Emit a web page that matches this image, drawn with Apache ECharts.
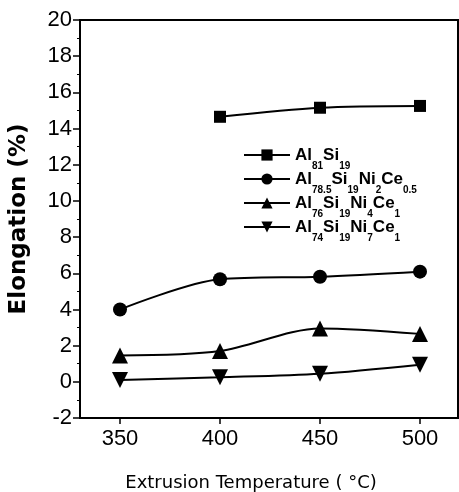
<!DOCTYPE html>
<html><head><meta charset="utf-8">
<script src="https://cdn.jsdelivr.net/npm/echarts@6/dist/echarts.min.js"></script>
<style>html,body{margin:0;padding:0;background:#fff}#c{width:459px;height:492px}</style>
</head><body><div id="c"></div>
<script>
var temps = [350, 400, 450, 500];
var xTicks = [350, 400, 450, 500];
var seriesNames = ['Al81Si19', 'Al78.5Si19Ni2Ce0.5', 'Al76Si19Ni4Ce1', 'Al74Si19Ni7Ce1'];
var legendRich = [
  '{b|Al}{s|81}{b|Si}{s|19}',
  '{b|Al}{s|78.5}{b|Si}{s|19}{b|Ni}{s|2}{b|Ce}{s|0.5}',
  '{b|Al}{s|76}{b|Si}{s|19}{b|Ni}{s|4}{b|Ce}{s|1}',
  '{b|Al}{s|74}{b|Si}{s|19}{b|Ni}{s|7}{b|Ce}{s|1}'
];
var alSi = [null, 14.65, 15.15, 15.25];
var ce05 = [4.0, 5.67, 5.81, 6.09];
var ni4 = [1.45, 1.7, 2.95, 2.65];
var ni7 = [0.1, 0.25, 0.45, 0.95];
var symbols = ['rect', 'circle', 'triangle', 'path://M0,0 L10,0 L5,9 Z'];
var values = [alSi, ce05, ni4, ni7];

function pairs(v){ var out=[]; for(var i=0;i<temps.length;i++){ if(v[i]!=null) out.push([temps[i], v[i]]); } return out; }

var chart = echarts.init(document.getElementById('c'));
var series = values.map(function(v, i){
  return {
    name: seriesNames[i], type: 'line', smooth: 0.3, data: pairs(v),
    symbol: symbols[i], symbolSize: i===0 ? 12 : (i===1 ? 14 : 16),
    lineStyle: {color: '#000', width: 2}, itemStyle: {color: '#000'}
  };
});
chart.setOption({
  animation: false,
  grid: {left: 80, top: 20, right: 1, bottom: 74, outerBoundsMode: 'none', containLabel: false, show: true, borderColor: '#000', borderWidth: 2, backgroundColor: 'transparent'},
  legend: {
    orient: 'vertical', left: 238, top: 142, itemWidth: 46, itemHeight: 14, itemGap: 0,
    data: seriesNames,
    formatter: function(n){ return legendRich[seriesNames.indexOf(n)]; },
    textStyle: {
      rich: {
        b: {fontFamily: 'Liberation Sans', fontWeight: 'bold', fontSize: 17, color: '#000', verticalAlign: 'bottom', lineHeight: 18},
        s: {fontFamily: 'Liberation Sans', fontWeight: 'bold', fontSize: 10, color: '#000', verticalAlign: 'bottom', lineHeight: 18, padding: [0,0,-7,0]}
      }
    }
  },
  xAxis: {
    type: 'value', min: 330, max: 519,
    name: 'Extrusion Temperature ( °C)', nameLocation: 'middle', nameGap: 56,
    nameTextStyle: {fontFamily: 'DejaVu Sans', fontSize: 18, color: '#000', padding: [0, 36, 0, 0]},
    axisLine: {onZero: false, lineStyle: {color: '#000', width: 2}},
    axisTick: {show: true, length: 6, lineStyle: {color: '#000', width: 1.5}, customValues: xTicks},
    axisLabel: {customValues: xTicks, fontFamily: 'Liberation Sans', fontSize: 22, color: '#000', margin: 10},
    splitLine: {show: false}
  },
  yAxis: {
    type: 'value', min: -2, max: 20, interval: 2,
    name: 'Elongation (%)', nameLocation: 'middle', nameGap: 49,
    nameTextStyle: {fontFamily: 'DejaVu Sans', fontWeight: 'bold', fontSize: 23, color: '#000'},
    axisLine: {show: true, onZero: false, lineStyle: {color: '#000', width: 2}},
    axisTick: {show: true, length: 7, lineStyle: {color: '#000', width: 1.5}},
    minorTick: {show: true, splitNumber: 2, length: 3, lineStyle: {color: '#000', width: 1}},
    axisLabel: {fontFamily: 'Liberation Sans', fontSize: 22, color: '#000', margin: 8},
    splitLine: {show: false}
  },
  series: series
});
</script>
</body></html>
